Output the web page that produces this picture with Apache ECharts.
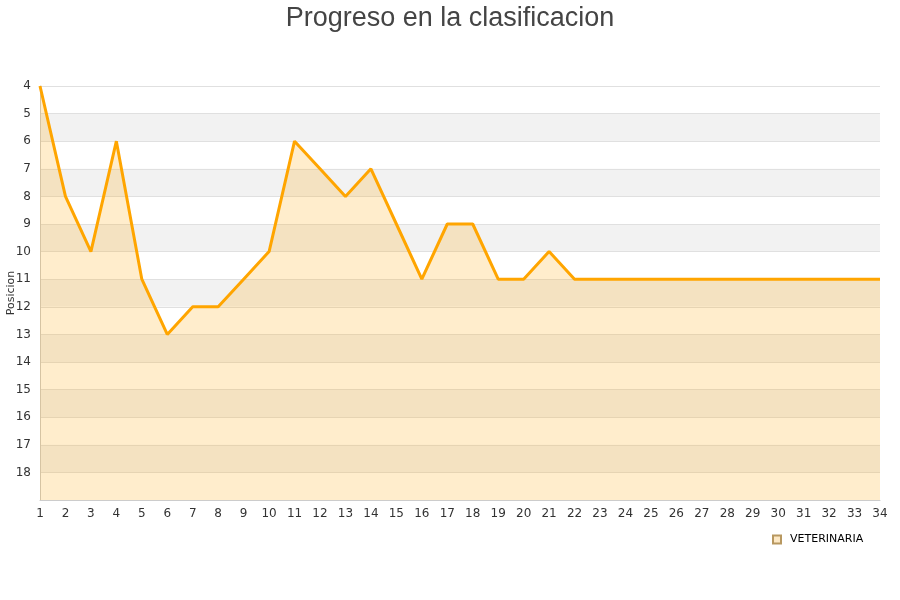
<!DOCTYPE html>
<html><head><meta charset="utf-8">
<script src="https://cdn.jsdelivr.net/npm/echarts@6/dist/echarts.min.js"></script>
<style>html,body{margin:0;padding:0;background:#fff}#c{width:900px;height:600px}</style>
</head><body><div id="c"></div>
<script>
const jornadas = ['1','2','3','4','5','6','7','8','9','10','11','12','13','14','15','16','17','18','19','20','21','22','23','24','25','26','27','28','29','30','31','32','33','34'];
const posiciones = [4,8,10,6,11,13,12,12,11,10,6,7,8,7,9,11,9,9,11,11,10,11,11,11,11,11,11,11,11,11,11,11,11,11];
const serieNombre = 'VETERINARIA';
const titulo = 'Progreso en la clasificacion';
const ejeY = 'Posicion';

const chart = echarts.init(document.getElementById('c'));
chart.setOption({
  animation: false,
  title: {text: titulo, left: 'center', top: 0,
    textStyle: {fontFamily: 'Liberation Sans, Arial', fontSize: 27, fontWeight: 'normal', color: '#444'}},
  grid: {left: 40, right: 20, top: 86, bottom: 100, containLabel: false, outerBoundsMode: 'none'},
  legend: {data: [{name: serieNombre, icon: 'rect'}], left: 767, top: 529, itemWidth: 8, itemHeight: 8, itemGap: 10,
    textStyle: {fontFamily: 'DejaVu Sans', fontSize: 11, color: '#000', padding: [0, 0, 0, 4]}},
  xAxis: {type: 'category', data: jornadas, boundaryGap: false,
    axisLine: {lineStyle: {color: '#ccc'}}, axisTick: {show: false},
    axisLabel: {fontFamily: 'DejaVu Sans', fontSize: 12, color: '#333', margin: 8, interval: 0},
    splitLine: {show: false}},
  yAxis: {type: 'value', inverse: true, min: 4, max: 19, interval: 1,
    name: ejeY, nameLocation: 'middle', nameGap: 23, nameRotate: 90, nameMoveOverlap: false,
    nameTextStyle: {fontFamily: 'DejaVu Sans', fontSize: 11, color: '#333'},
    axisLine: {show: true, lineStyle: {color: '#ccc'}}, axisTick: {show: false},
    axisLabel: {fontFamily: 'DejaVu Sans', fontSize: 12, color: '#333', margin: 9,
      formatter: v => v === 19 ? '' : String(v)},
    splitLine: {lineStyle: {color: '#e0e0e0'}},
    splitArea: {show: true, areaStyle: {color: ['#ffffff', '#f2f2f2']}}},
  series: [{
    name: serieNombre, type: 'line', data: posiciones,
    symbol: 'none', lineStyle: {color: '#ffa500', width: 3},
    itemStyle: {color: '#fde8c4', borderColor: '#b89860', borderWidth: 1},
    areaStyle: {color: 'rgba(255,165,0,0.2)', opacity: 1, origin: 'end'}
  }]
});
</script></body></html>
